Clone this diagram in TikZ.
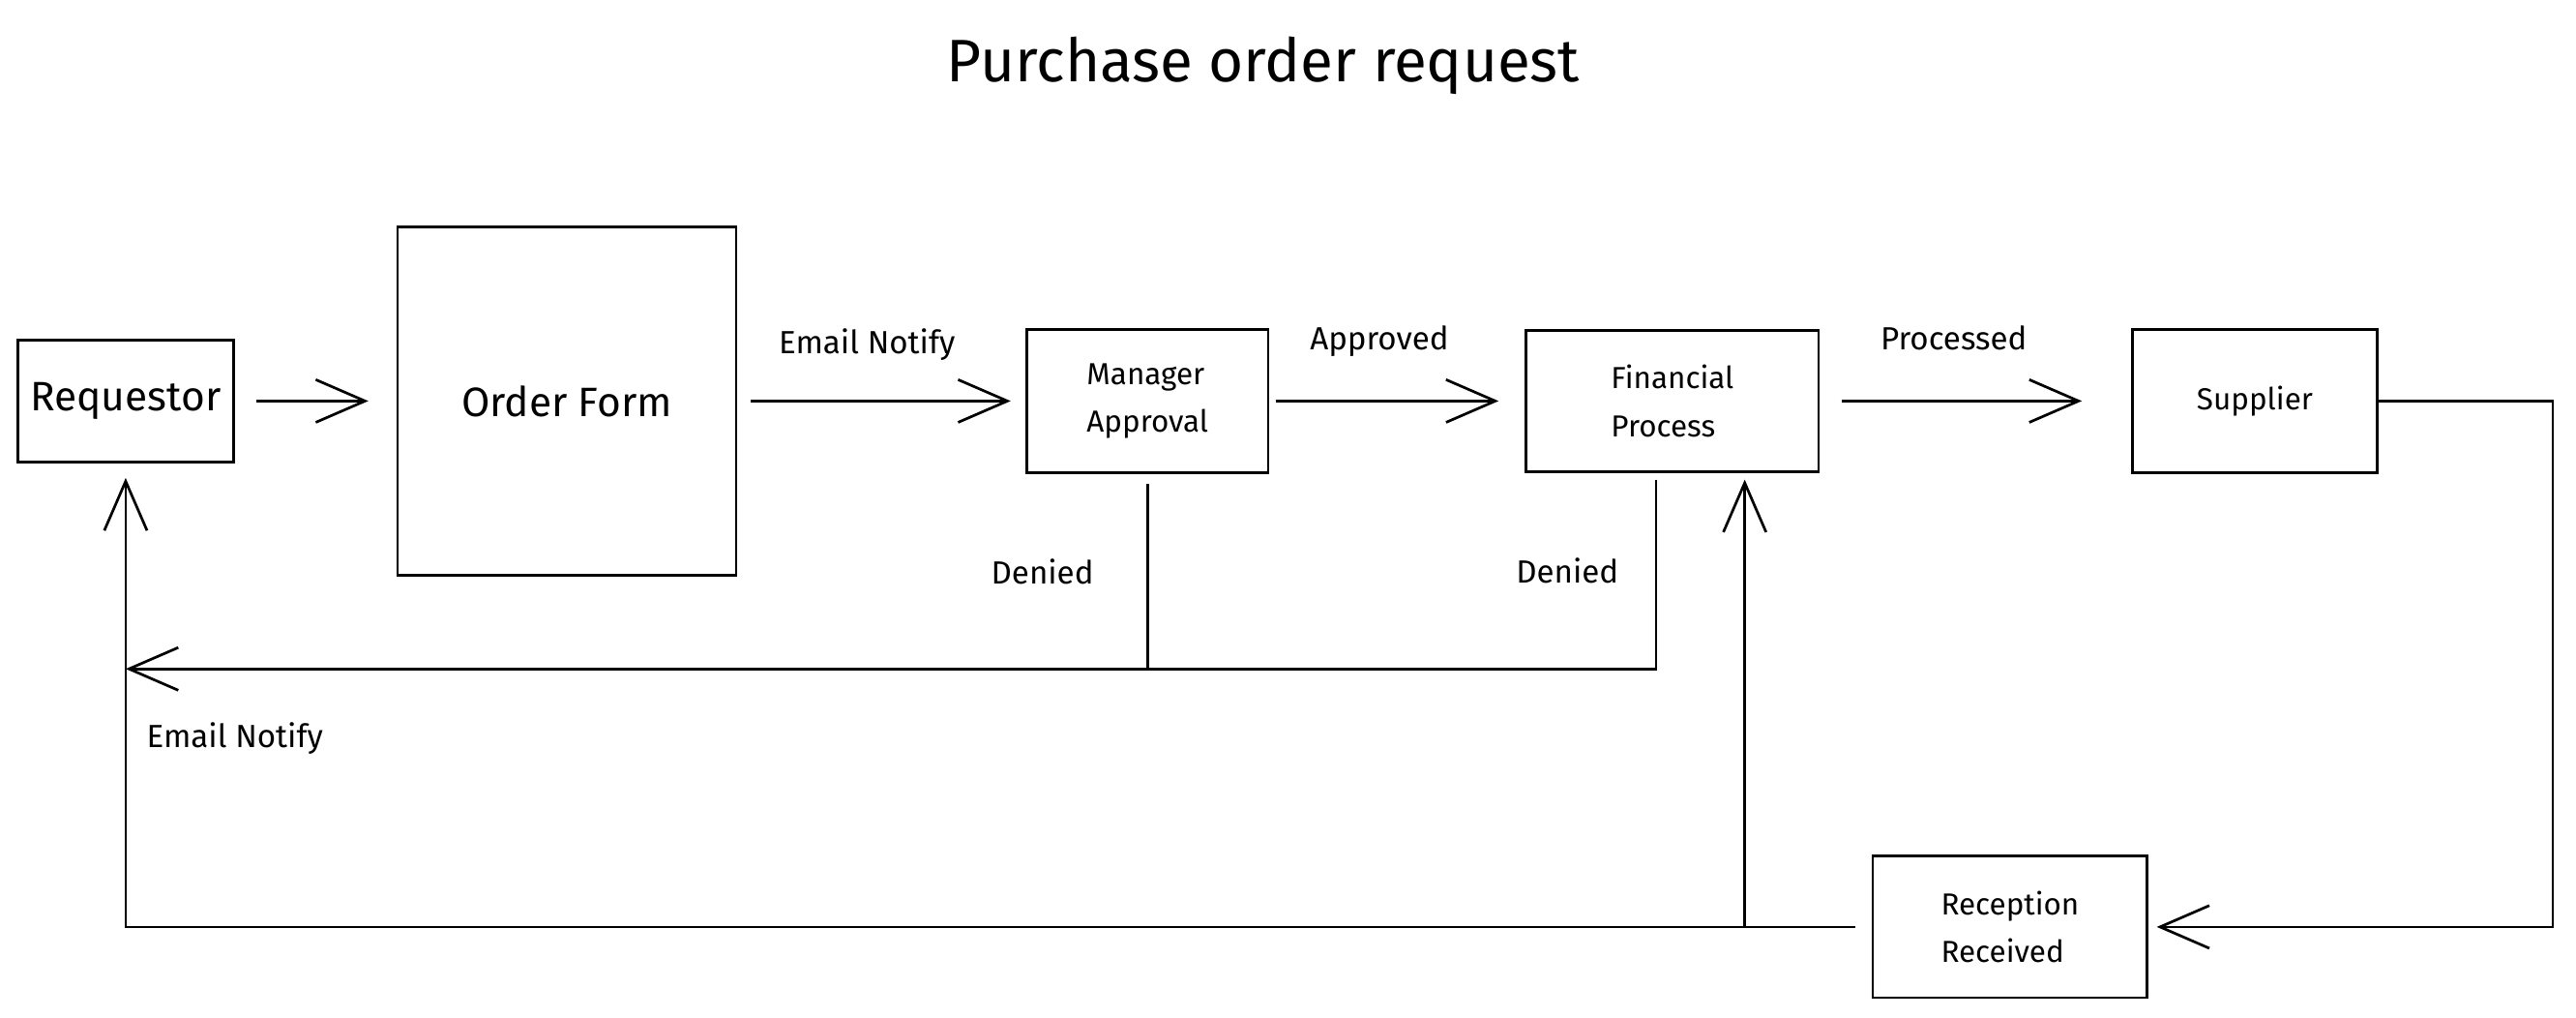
\documentclass[tikz,border=0pt]{standalone}
\usepackage{fontspec}
\setmainfont{Fira Sans}
\usetikzlibrary{positioning}
\usetikzlibrary{arrows.meta}
\tikzstyle{block} = [draw, rectangle, line width=1.6pt, inner sep=0pt, align=left, font=\fontsize{18.5}{29}\selectfont]
\tikzstyle{big block} = [block, font=\fontsize{25}{30}\selectfont]
\tikzstyle{note} = [font=\fontsize{19.5}{22}\selectfont, inner sep=2pt]
\tikzstyle{conn} = [line width=1.6pt]

\begin{document}
\begin{tikzpicture}[x=1pt, y=-1pt, >={Straight Barb[length=30pt,width=26pt]}]
    \useasboundingbox (0,0) rectangle (1568,619);
    \node (title) at (769,40) {\fontsize{36.5}{40}\selectfont Purchase order request};

    \node[big block, minimum width=131pt, minimum height=74pt] (requestor) at (76.5,244) {Requestor};
    \node[big block, right of=requestor, minimum width=206pt, minimum height=212pt, node distance=268.5pt] (orderform) {Order Form};
    \node[block, right of=orderform, minimum width=147pt, minimum height=87pt, node distance=353.5pt] (manager) {Manager\\Approval};
    \node[block, right of=manager, minimum width=178pt, minimum height=86pt, node distance=319.5pt] (financial) {Financial\\Process};
    \node[block, right of=financial, minimum width=149pt, minimum height=87pt, node distance=354.5pt] (supplier) {Supplier};
    \node[block, minimum width=167pt, minimum height=86pt] (reception) at (1223.5,564) {Reception\\Received};

    \coordinate (branch) at (1062,564);
    \coordinate (deny) at (1008,407);

    \draw[conn, ->, shorten <=13pt, shorten >=17pt] (requestor) -- (orderform);
    \draw[conn, ->, shorten <=8pt, shorten >=9pt] (orderform) -- node[note, above=22pt, pos=0.45] {Email Notify} (manager);
    \draw[conn, ->, shorten <=4pt, shorten >=16pt] (manager) -- node[note, above=24pt, pos=0.43] {Approved} (financial);
    \draw[conn, ->, shorten <=13pt, shorten >=30pt] (financial) -- node[note, above=28pt, pos=0.43] {Processed} (supplier);
    \draw[conn, ->, shorten >=5pt] (supplier.east) -- ++(106,0) |- (reception.east);
    \draw[conn, ->, shorten <=10pt, shorten >=9pt] (reception.west) -| (requestor.south);
    \draw[conn, ->, shorten >=4pt] (branch) -- (branch |- financial.south);

    \draw[conn, shorten <=6pt] (manager) -- node[note, left=30pt] {Denied} (manager |- deny);
    \draw[conn, ->, shorten <=4pt] (deny |- financial.south) -- node[note, left=20pt] {Denied} (deny)
       -- (deny -| requestor)
       node[note, below right=30pt and 10pt] {Email Notify};
\end{tikzpicture}
\end{document}
